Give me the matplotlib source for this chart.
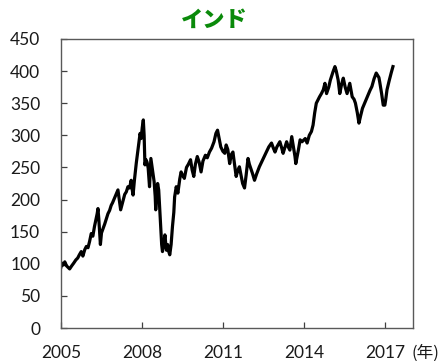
import matplotlib
matplotlib.use("Agg")
import matplotlib.pyplot as plt

plt.rcParams['font.family'] = ['Lato', 'Noto Sans CJK JP', 'DejaVu Sans']

# Index level (2005 start = 100), sampled at decimal-year dates
years = [
    2005.00, 2005.04, 2005.09, 2005.14, 2005.20, 2005.27, 2005.32, 2005.40, 2005.47, 2005.55,
    2005.62, 2005.68, 2005.75, 2005.81, 2005.88, 2005.94, 2006.00, 2006.06, 2006.12, 2006.18,
    2006.24, 2006.30, 2006.34, 2006.37, 2006.40, 2006.43, 2006.46, 2006.50, 2006.56, 2006.62,
    2006.68, 2006.74, 2006.80, 2006.86, 2006.91, 2006.96, 2007.01, 2007.06, 2007.11, 2007.16,
    2007.21, 2007.26, 2007.30, 2007.36, 2007.42, 2007.48, 2007.54, 2007.60, 2007.64, 2007.67,
    2007.72, 2007.79, 2007.85, 2007.89, 2007.93, 2007.97, 2008.01, 2008.05, 2008.08, 2008.11,
    2008.15, 2008.19, 2008.23, 2008.28, 2008.33, 2008.37, 2008.41, 2008.45, 2008.49, 2008.51,
    2008.55, 2008.58, 2008.62, 2008.64, 2008.67, 2008.70, 2008.73, 2008.76, 2008.80, 2008.85,
    2008.88, 2008.91, 2008.95, 2009.00, 2009.03, 2009.08, 2009.13, 2009.18, 2009.21, 2009.27,
    2009.33, 2009.40, 2009.45, 2009.50, 2009.57, 2009.65, 2009.72, 2009.80, 2009.86, 2009.92,
    2009.98, 2010.05, 2010.12, 2010.19, 2010.26, 2010.35, 2010.42, 2010.50, 2010.58, 2010.67,
    2010.74, 2010.80, 2010.86, 2010.92, 2011.00, 2011.07, 2011.12, 2011.18, 2011.25, 2011.31,
    2011.37, 2011.43, 2011.49, 2011.55, 2011.61, 2011.67, 2011.73, 2011.80, 2011.86, 2011.93,
    2011.98, 2012.05, 2012.10, 2012.17, 2012.25, 2012.35, 2012.45, 2012.53, 2012.62, 2012.70,
    2012.80, 2012.87, 2012.93, 2013.00, 2013.11, 2013.18, 2013.23, 2013.30, 2013.36, 2013.42,
    2013.48, 2013.55, 2013.60, 2013.67, 2013.70, 2013.80, 2013.86, 2013.93, 2014.05, 2014.12,
    2014.20, 2014.28, 2014.34, 2014.40, 2014.46, 2014.52, 2014.58, 2014.65, 2014.72, 2014.78,
    2014.84, 2014.92, 2014.98, 2015.08, 2015.15, 2015.20, 2015.27, 2015.33, 2015.40, 2015.46,
    2015.53, 2015.60, 2015.66, 2015.70, 2015.79, 2015.86, 2015.91, 2015.98, 2016.04, 2016.10,
    2016.17, 2016.25, 2016.35, 2016.45, 2016.52, 2016.60, 2016.68, 2016.78, 2016.81, 2016.88,
    2016.94, 2017.00, 2017.03, 2017.08, 2017.16, 2017.24, 2017.30,
]
values = [
    95, 101, 98, 103, 97, 94, 92, 97, 101, 106,
    109, 114, 119, 112, 122, 127, 125, 135, 147, 143,
    158, 170, 178, 186, 170, 150, 130, 148, 155, 162,
    170, 178, 183, 191, 195, 200, 205, 210, 215, 200,
    184, 192, 199, 208, 212, 220, 218, 230, 215, 207,
    230, 257, 277, 290, 303, 295, 312, 324, 300, 254,
    262, 258, 249, 220, 264, 252, 240, 228, 205, 184,
    210, 225, 215, 199, 175, 153, 130, 119, 128, 145,
    132, 121, 130, 118, 114, 130, 158, 180, 204, 220,
    210, 232, 243, 238, 233, 250, 255, 262, 246, 236,
    255, 267, 258, 243, 260, 269, 265, 274, 280, 290,
    303, 308, 295, 282, 275, 272, 285, 278, 256, 270,
    274, 255, 236, 245, 251, 238, 225, 218, 238, 264,
    255, 246, 240, 230, 240, 251, 260, 267, 275, 282,
    288, 280, 274, 282, 290, 280, 272, 282, 290, 282,
    277, 298, 285, 267, 256, 278, 293, 290, 295, 288,
    300, 306, 316, 335, 350, 355, 360, 365, 371, 381,
    365, 375, 386, 399, 407, 400, 386, 365, 380, 389,
    375, 365, 375, 381, 360, 356, 350, 335, 319, 330,
    342, 350, 360, 370, 376, 388, 397, 390, 383, 365,
    347, 347, 355, 371, 385, 398, 407,
]

x_ticks = [2005, 2008, 2011, 2014, 2017]
y_ticks = [0, 50, 100, 150, 200, 250, 300, 350, 400, 450]
title = "インド"
unit_label = "(年)"

fig = plt.figure(figsize=(4.44, 3.61), dpi=100)
ax = fig.add_axes([0.1374, 0.0914, 0.7926, 0.8006])

ax.plot(years, values, color="black", linewidth=2.3, solid_joinstyle="round")

ax.set_xlim(2005, 2018.04)
ax.set_ylim(0, 450)
ax.set_xticks(x_ticks)
ax.set_yticks(y_ticks)
ax.tick_params(direction="in", length=4, width=0.9, color="#404040",
               labelsize=12.5, labelcolor="#1a1a1a")
ax.tick_params(axis="x", pad=12)
ax.tick_params(axis="y", pad=15)
for side in ax.spines.values():
    side.set_color("#595959")
    side.set_linewidth(1.0)

fig.text(214 / 444, 1 - 20 / 361, title, color="#0a8a0a", fontsize=16,
         fontweight="heavy", ha="center", va="center",
         family=["Noto Sans CJK JP"])
fig.text(425 / 444, 1 - 353 / 361, unit_label, color="#1a1a1a", fontsize=12,
         ha="center", va="center", family=["Noto Sans CJK JP"])

fig.savefig("out.png", dpi=100)
